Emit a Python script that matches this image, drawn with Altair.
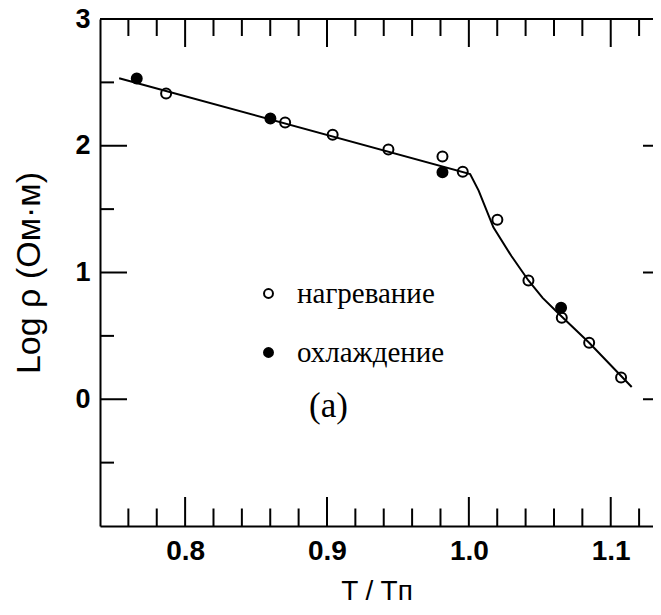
import altair as alt
import pandas as pd

# ---- data ----
heat_x = [0.7866, 0.8705, 0.9040, 0.9433, 0.9814, 0.9957, 1.0201, 1.0420, 1.0655, 1.0848, 1.1073]
heat_y = [2.412, 2.183, 2.087, 1.971, 1.916, 1.795, 1.417, 0.937, 0.643, 0.446, 0.171]
cool_x = [0.7659, 0.8601, 0.9814, 1.0650]
cool_y = [2.530, 2.215, 1.790, 0.722]
curve_x = [0.7535, 1.0009, 1.0069, 1.0173, 1.030, 1.042, 1.052, 1.0632, 1.0848, 1.1148]
curve_y = [2.533, 1.777, 1.646, 1.357, 1.13, 0.937, 0.80, 0.677, 0.446, 0.097]
series_names = ["нагревание", "охлаждение"]

x_major = [0.8, 0.9, 1.0, 1.1]
x_minor = [0.76, 0.78, 0.82, 0.84, 0.86, 0.88, 0.92, 0.94, 0.96, 0.98,
           1.02, 1.04, 1.06, 1.08, 1.12]
y_labels = [0, 1, 2, 3]
y_major = [0, 1, 2]
y_minor = [-0.5, 0.5, 1.5, 2.5]

W, H = 553, 507
X0, X1 = 0.74, 1.1298
Y0, Y1 = -1.0, 3.0
xs = alt.Scale(domain=[X0, X1], nice=False, zero=False)
ys = alt.Scale(domain=[Y0, Y1], nice=False, zero=False)
PX_X = (X1 - X0) / W   # data units per pixel
PX_Y = (Y1 - Y0) / H

ax_x = alt.Axis(
    values=x_major, format=".1f", tickSize=0, domain=True, domainColor="black",
    domainWidth=2, grid=False, labelFont="Liberation Sans", labelFontWeight="bold",
    labelFontSize=28, labelColor="black", labelPadding=11,
    title="T / Tп", titleFont="Liberation Sans", titleFontSize=28,
    titleFontWeight="normal", titleColor="black", titlePadding=12)
ax_y = alt.Axis(
    values=y_labels, format="d", tickSize=0, domain=True, domainColor="black",
    domainWidth=2, grid=False, labelFont="Liberation Sans", labelFontWeight="bold",
    labelFontSize=27, labelColor="black", labelPadding=10,
    title="Log ρ (Ом·м)", titleFont="Liberation Sans", titleFontSize=34,
    titleFontWeight="normal", titleColor="black", titlePadding=28)

curve_df = pd.DataFrame({"x": curve_x, "y": curve_y})
pts_df = pd.DataFrame({
    "x": heat_x + cool_x,
    "y": heat_y + cool_y,
    "s": [series_names[0]] * len(heat_x) + [series_names[1]] * len(cool_x),
})

# frame: ticks on all four sides, top border (left/bottom borders are axis lines)
tick_rows = []
for v in x_major:
    tick_rows.append({"x": v, "y": Y1, "x2": v, "y2": Y1 - 28 * PX_Y})
    tick_rows.append({"x": v, "y": Y0, "x2": v, "y2": Y0 + 29 * PX_Y})
for v in x_minor:
    tick_rows.append({"x": v, "y": Y1, "x2": v, "y2": Y1 - 17 * PX_Y})
    tick_rows.append({"x": v, "y": Y0, "x2": v, "y2": Y0 + 17.5 * PX_Y})
for v in y_major:
    tick_rows.append({"x": X0, "y": v, "x2": X0 + 27 * PX_X, "y2": v})
    tick_rows.append({"x": X1, "y": v, "x2": X1 - 10 * PX_X, "y2": v})
for v in y_minor:
    tick_rows.append({"x": X0, "y": v, "x2": X0 + 14 * PX_X, "y2": v})
tick_rows.append({"x": X0, "y": Y1, "x2": X1, "y2": Y1})
frame_df = pd.DataFrame(tick_rows)

frame = alt.Chart(frame_df).mark_rule(color="black", strokeWidth=2).encode(
    x=alt.X("x:Q", scale=xs, axis=ax_x),
    y=alt.Y("y:Q", scale=ys, axis=ax_y),
    x2="x2:Q",
    y2="y2:Q",
)

line = alt.Chart(curve_df).mark_line(color="black", strokeWidth=2).encode(
    x=alt.X("x:Q", scale=xs, axis=ax_x),
    y=alt.Y("y:Q", scale=ys, axis=ax_y),
)

points = alt.Chart(pts_df).mark_point(
    filled=True, stroke="black", strokeWidth=2, size=100, opacity=1, shape="circle"
).encode(
    x=alt.X("x:Q", scale=xs, axis=ax_x),
    y=alt.Y("y:Q", scale=ys, axis=ax_y),
    fill=alt.Fill("s:N", scale=alt.Scale(domain=series_names, range=["transparent", "black"]),
                  legend=alt.Legend(title=None, orient="none", legendX=154, legendY=260,
                                    symbolType="circle", symbolStrokeColor="black",
                                    symbolStrokeWidth=2, symbolSize=80, padding=0,
                                    labelFont="Liberation Serif", labelFontSize=29,
                                    labelColor="black", labelOffset=14, rowPadding=29)),
)

chart = alt.layer(frame, line, points).properties(
    width=W, height=H,
    autosize=alt.AutoSizeParams(type="none"),
    padding={"left": 92, "top": 11, "right": 0, "bottom": 81},
    title=alt.TitleParams("(a)", anchor="start", frame="group", orient="top", offset=0,
                          dx=209, dy=447, baseline="alphabetic", font="Liberation Serif",
                          fontSize=35, fontWeight="normal", color="black"),
).configure_view(strokeOpacity=0).configure(background="white")

chart.save("out.html", embed_options={"renderer": "svg", "actions": False})
